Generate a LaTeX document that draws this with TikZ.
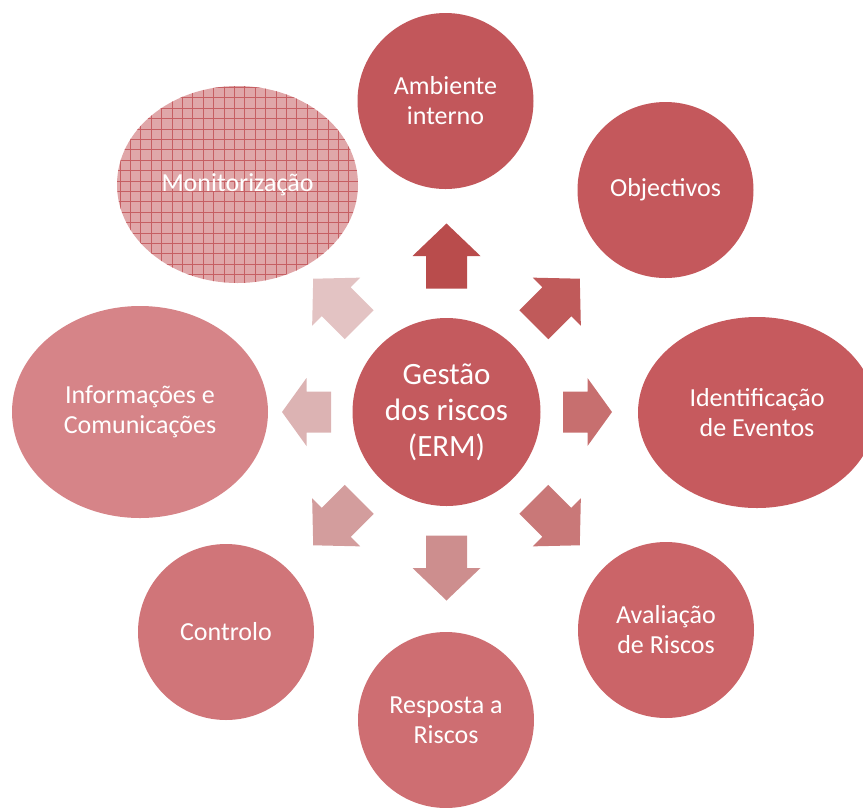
\documentclass[tikz,border=0pt]{standalone}
\usepackage{fontspec}
\setmainfont{Carlito}
\usetikzlibrary{shapes.geometric,calc}
\definecolor{cCenter}{HTML}{C45A5E}
\definecolor{cAmb}{HTML}{C2575B}
\definecolor{cObj}{HTML}{C4585C}
\definecolor{cIdent}{HTML}{C65A5E}
\definecolor{cAval}{HTML}{CB6468}
\definecolor{cResp}{HTML}{CE6E72}
\definecolor{cCtrl}{HTML}{D07579}
\definecolor{cInfo}{HTML}{D68488}
\definecolor{cMon}{HTML}{E0A7A9}
\definecolor{cMonLine}{HTML}{C65F63}
\definecolor{aN}{HTML}{B94C4C}
\definecolor{aNE}{HTML}{C05A5A}
\definecolor{aE}{HTML}{C76F6F}
\definecolor{aSE}{HTML}{C97878}
\definecolor{aS}{HTML}{CD8E8E}
\definecolor{aSW}{HTML}{D39D9D}
\definecolor{aW}{HTML}{DCB3B3}
\definecolor{aNW}{HTML}{E3C3C3}
\tikzset{
  bubble/.style={circle, minimum size=176pt, inner sep=0pt, text=white, align=center,
    font=\fontsize{26}{30}\selectfont},
  oval/.style={ellipse, inner sep=0pt, text=white, align=center,
    font=\fontsize{26}{30}\selectfont},
  longarrow/.pic={\fill[pic actions] (-32.5,-20.5) -- (0,-20.5) -- (0,-34) -- (32.5,0) -- (0,34) -- (0,20.5) -- (-32.5,20.5) -- cycle;},
  shortarrow/.pic={\fill[pic actions] (-24.5,-20.5) -- (0,-20.5) -- (0,-34) -- (24.5,0) -- (0,34) -- (0,20.5) -- (-24.5,20.5) -- cycle;}
}
\begin{document}
\begin{tikzpicture}[x=1pt,y=1pt]
\useasboundingbox (0,0) rectangle (863,-807);
\clip (0,0) rectangle (863,-807);
% outer shapes
\node[bubble, fill=cAmb] (amb) at (445.5,-101) {Ambiente\\interno};
\node[bubble, fill=cObj] (obj) at (665.5,-190) {Objectivos};
\node[oval, fill=cIdent, minimum width=238pt, minimum height=191pt] (ident) at (757,-412.5) {Identificação\\de Eventos};
\node[bubble, fill=cAval] (aval) at (666,-630) {Avaliação\\de Riscos};
\node[bubble, fill=cResp] (resp) at (446,-720) {Resposta a\\Riscos};
\node[bubble, fill=cCtrl] (ctrl) at (226,-632) {Controlo};
\node[oval, fill=cInfo, minimum width=256pt, minimum height=212pt] (info) at (140,-412) {Informações e\\Comunicações};
\node[oval, fill=cMon, minimum width=241pt, minimum height=197pt,
  path picture={\draw[cMonLine, line width=0.6pt] (path picture bounding box.south west) grid[step=10.4] (path picture bounding box.north east);}]
  (mon) at (237.5,-184.5) {Monitorização};
% centre
\node[circle, fill=cCenter, minimum size=188pt, inner sep=0pt, text=white, align=center,
  font=\fontsize{31}{36}\selectfont] (c) at (446.5,-412) {Gestão\\dos riscos\\(ERM)};
% arrows
\pic[fill=aN, rotate=90] at ($(c)+(90:156)$) {longarrow};
\pic[fill=aNE, rotate=45] at ($(c)+(45:156)$) {longarrow};
\pic[fill=aE, rotate=0] at ($(c)+(0:141)$) {shortarrow};
\pic[fill=aSE, rotate=-45] at ($(c)+(-45:156)$) {longarrow};
\pic[fill=aS, rotate=-90] at ($(c)+(-90:156)$) {longarrow};
\pic[fill=aSW, rotate=-135] at ($(c)+(-135:156)$) {longarrow};
\pic[fill=aW, rotate=180] at ($(c)+(180:140)$) {shortarrow};
\pic[fill=aNW, rotate=135] at ($(c)+(135:156)$) {longarrow};
\end{tikzpicture}
\end{document}
